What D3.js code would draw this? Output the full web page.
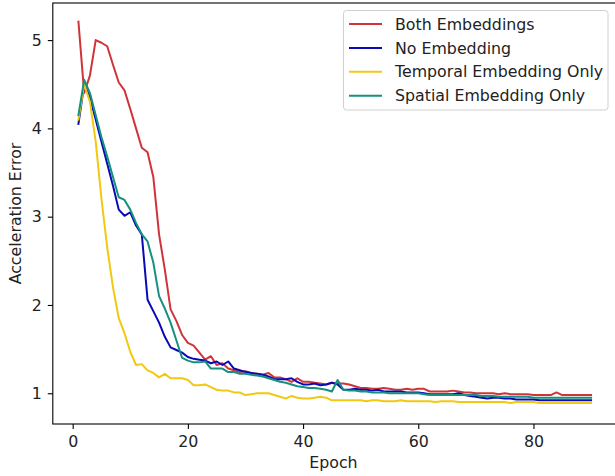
<!DOCTYPE html>
<html>
<head>
<meta charset="utf-8">
<script src="https://cdn.jsdelivr.net/npm/d3@7"></script>
<style>
  body { margin: 0; background: #fff; }
  svg { display: block; font-family: "DejaVu Sans", sans-serif; }
</style>
</head>
<body>
<svg id="chart" width="615" height="476"></svg>
<script>
const epochs = d3.range(1, 91);

const bothEmbeddings = [
  5.21, 4.40, 4.60, 5.00, 4.97, 4.93, 4.72, 4.52, 4.43, 4.22,
  4.00, 3.78, 3.73, 3.45, 2.80, 2.40, 1.95, 1.82, 1.66, 1.57,
  1.54, 1.46, 1.38, 1.42, 1.32, 1.34, 1.28, 1.26, 1.24, 1.25,
  1.23, 1.22, 1.21, 1.23, 1.18, 1.18, 1.16, 1.13, 1.17, 1.13,
  1.13, 1.12, 1.11, 1.10, 1.12, 1.11, 1.11, 1.10, 1.08, 1.06,
  1.06, 1.05, 1.05, 1.06, 1.05, 1.04, 1.04, 1.05, 1.04, 1.05,
  1.05, 1.02, 1.02, 1.02, 1.02, 1.03, 1.02, 1.01, 1.01, 1.00,
  1.00, 1.00, 1.00, 0.99, 1.00, 0.99, 0.99, 0.99, 0.99, 0.98,
  0.98, 0.98, 0.98, 1.01, 0.98, 0.98, 0.98, 0.98, 0.98, 0.98
];
const noEmbedding = [
  4.05, 4.50, 4.35, 4.10, 3.85, 3.60, 3.35, 3.08, 3.01, 3.05,
  2.90, 2.80, 2.06, 1.93, 1.80, 1.64, 1.52, 1.49, 1.46, 1.41,
  1.39, 1.38, 1.37, 1.34, 1.36, 1.32, 1.36, 1.28, 1.26, 1.24,
  1.23, 1.22, 1.21, 1.19, 1.16, 1.16, 1.16, 1.17, 1.13, 1.10,
  1.10, 1.11, 1.09, 1.10, 1.12, 1.10, 1.04, 1.04, 1.05, 1.04,
  1.04, 1.03, 1.04, 1.02, 1.02, 1.02, 1.02, 1.01, 1.01, 1.01,
  1.00, 0.99, 0.99, 0.99, 0.99, 0.99, 1.00, 0.98, 0.97, 0.96,
  0.95, 0.94, 0.95, 0.95, 0.94, 0.94, 0.93, 0.93, 0.93, 0.93,
  0.92, 0.92, 0.92, 0.92, 0.92, 0.92, 0.92, 0.92, 0.92, 0.92
];
const temporalOnly = [
  4.10, 4.50, 4.30, 3.85, 3.20, 2.65, 2.20, 1.85, 1.68, 1.47,
  1.32, 1.33, 1.26, 1.23, 1.18, 1.22, 1.17, 1.17, 1.17, 1.15,
  1.09, 1.09, 1.10, 1.07, 1.04, 1.03, 1.03, 1.01, 1.01, 0.98,
  0.99, 1.00, 1.00, 1.00, 0.98, 0.96, 0.94, 0.97, 0.95, 0.94,
  0.94, 0.95, 0.96, 0.95, 0.92, 0.92, 0.92, 0.92, 0.92, 0.92,
  0.91, 0.92, 0.92, 0.91, 0.91, 0.91, 0.92, 0.91, 0.91, 0.91,
  0.91, 0.91, 0.90, 0.91, 0.91, 0.91, 0.90, 0.90, 0.90, 0.90,
  0.90, 0.90, 0.90, 0.90, 0.90, 0.89, 0.90, 0.90, 0.90, 0.90,
  0.89, 0.89, 0.89, 0.89, 0.89, 0.89, 0.89, 0.89, 0.89, 0.89
];
const spatialOnly = [
  4.15, 4.55, 4.40, 4.15, 3.90, 3.68, 3.45, 3.22, 3.19, 3.08,
  2.93, 2.80, 2.72, 2.48, 2.10, 1.96, 1.80, 1.60, 1.40, 1.37,
  1.35, 1.35, 1.36, 1.28, 1.28, 1.28, 1.24, 1.24, 1.22, 1.22,
  1.21, 1.20, 1.19, 1.17, 1.15, 1.13, 1.12, 1.10, 1.08, 1.07,
  1.06, 1.06, 1.05, 1.04, 1.02, 1.15, 1.04, 1.03, 1.03, 1.02,
  1.02, 1.01, 1.01, 1.01, 1.00, 1.00, 1.00, 1.00, 1.00, 1.00,
  0.99, 0.98, 0.98, 0.98, 0.98, 0.98, 0.98, 0.98, 0.98, 0.98,
  0.97, 0.97, 0.97, 0.96, 0.96, 0.96, 0.96, 0.96, 0.96, 0.95,
  0.95, 0.95, 0.95, 0.95, 0.95, 0.95, 0.95, 0.95, 0.95, 0.95
];

const seriesNames = ["Both Embeddings", "No Embedding", "Temporal Embedding Only", "Spatial Embedding Only"];
const seriesValues = [bothEmbeddings, noEmbedding, temporalOnly, spatialOnly];
const seriesColors = ["#d0343a", "#0a0ab4", "#f2c811", "#16907f"];
const xTicks = [0, 20, 40, 60, 80];
const yTicks = [1, 2, 3, 4, 5];
const xLabel = "Epoch";
const yLabel = "Acceleration Error";

(function () {
  const svg = d3.select("#chart");
  const pl = 52.8, pr = 616.7, pt = 3, pb = 424;
  const fs = 15.8;

  const x = d3.scaleLinear().domain([-3.45, 94.45]).range([pl, pr]);
  const y = d3.scaleLinear().domain([0.652, 5.42]).range([pb, pt]);

  const plot = svg.append("g");

  const line = d3.line().x((d, i) => x(epochs[i])).y(d => y(d));
  seriesValues.forEach((vals, k) => {
    plot.append("path")
      .datum(vals)
      .attr("fill", "none")
      .attr("stroke", seriesColors[k])
      .attr("stroke-width", 2)
      .attr("stroke-linejoin", "round")
      .attr("stroke-linecap", "square")
      .attr("d", line);
  });

  svg.append("rect")
    .attr("x", pl).attr("y", pt)
    .attr("width", pr - pl).attr("height", pb - pt)
    .attr("fill", "none").attr("stroke", "#000").attr("stroke-width", 1.1);

  const xAxis = d3.axisBottom(x).tickValues(xTicks).tickSize(5).tickPadding(7).tickFormat(d3.format("d"));
  const gx = svg.append("g").attr("transform", `translate(0,${pb})`).call(xAxis);
  gx.select(".domain").remove();
  gx.selectAll("line").attr("stroke", "#000").attr("stroke-width", 1.1);
  gx.selectAll("text").attr("font-size", fs).attr("fill", "#222").attr("font-family", "DejaVu Sans");

  const yAxis = d3.axisLeft(y).tickValues(yTicks).tickSize(5).tickPadding(6).tickFormat(d3.format("d"));
  const gy = svg.append("g").attr("transform", `translate(${pl},0)`).call(yAxis);
  gy.select(".domain").remove();
  gy.selectAll("line").attr("stroke", "#000").attr("stroke-width", 1.1);
  gy.selectAll("text").attr("font-size", fs).attr("fill", "#222").attr("font-family", "DejaVu Sans");

  svg.append("text")
    .attr("x", (pl + 614) / 2).attr("y", 468)
    .attr("text-anchor", "middle").attr("font-size", fs).attr("fill", "#222")
    .text(xLabel);
  svg.append("text")
    .attr("transform", `translate(20.5,${(pt + pb) / 2}) rotate(-90)`)
    .attr("text-anchor", "middle").attr("font-size", fs).attr("fill", "#222")
    .text(yLabel);

  const lg = svg.append("g");
  lg.append("rect")
    .attr("x", 343.5).attr("y", 10.5).attr("width", 264.5).attr("height", 99.5)
    .attr("rx", 3).attr("fill", "#fff").attr("fill-opacity", 0.8)
    .attr("stroke", "#d0d0d0").attr("stroke-width", 1);
  seriesNames.forEach((name, k) => {
    const cy = 24 + k * 23.9;
    lg.append("line")
      .attr("x1", 349).attr("x2", 382).attr("y1", cy).attr("y2", cy)
      .attr("stroke", seriesColors[k]).attr("stroke-width", 2);
    lg.append("text")
      .attr("x", 395).attr("y", cy + 5.6)
      .attr("font-size", fs).attr("fill", "#222")
      .text(name);
  });
})();
</script>
</body>
</html>
